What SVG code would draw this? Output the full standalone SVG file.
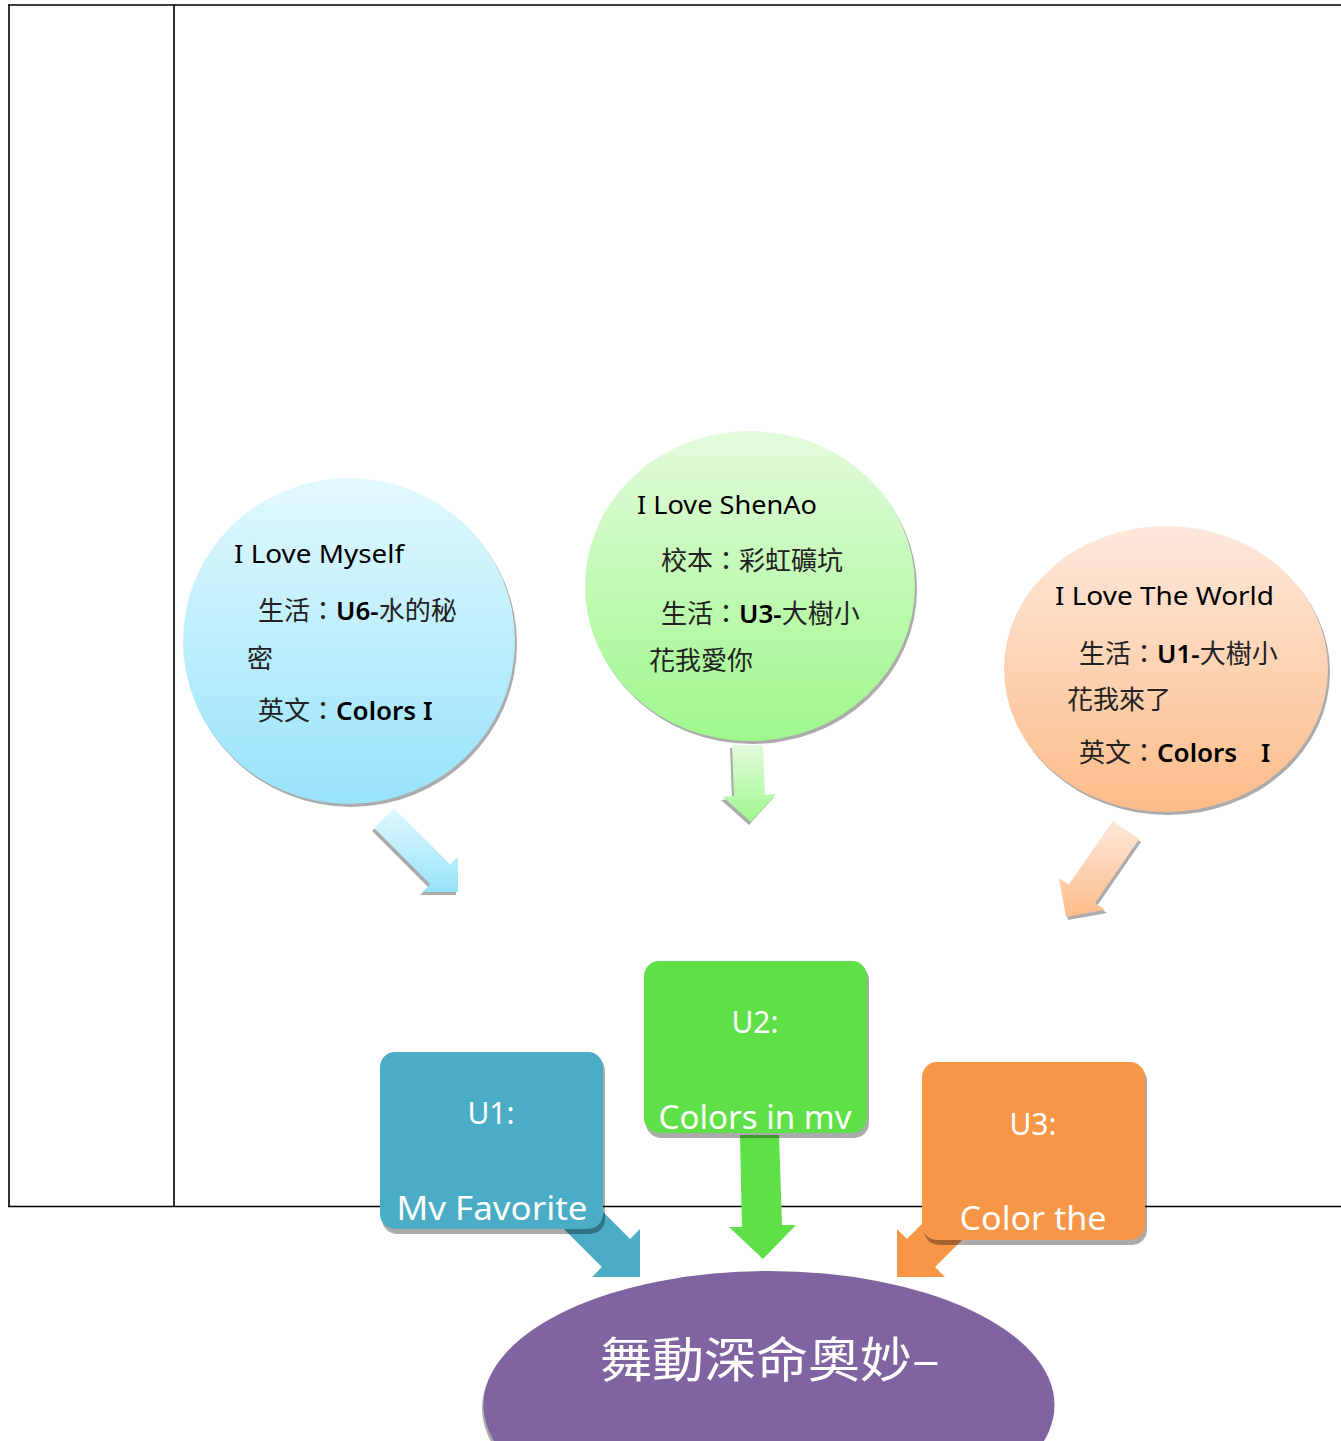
<svg xmlns="http://www.w3.org/2000/svg" width="1341" height="1441" viewBox="0 0 1341 1441">
<defs>
<linearGradient id="gBlue" x1="0" y1="0" x2="0" y2="1"><stop offset="0" stop-color="#e2f9fe"/><stop offset="1" stop-color="#98e3fb"/></linearGradient>
<linearGradient id="gGreen" x1="0" y1="0" x2="0" y2="1"><stop offset="0" stop-color="#e3fbdc"/><stop offset="1" stop-color="#9ff88c"/></linearGradient>
<linearGradient id="gOrange" x1="0" y1="0" x2="0" y2="1"><stop offset="0" stop-color="#fde9dc"/><stop offset="1" stop-color="#fdbc89"/></linearGradient>
<style>
.line{stroke:#000;stroke-width:1.6;fill:none}
.shadow{fill:#000;fill-opacity:0.33}
.en{font-family:"Noto Sans","Liberation Sans",sans-serif;fill:#000}
.cjk{font-family:"Noto Sans CJK TC","Noto Sans",sans-serif;fill:#222;font-size:26px}
.lat{font-family:"Noto Sans","Liberation Sans",sans-serif;font-weight:600;fill:#000}
.box{font-family:"Noto Sans","Liberation Sans",sans-serif;fill:#fff}
.title{font-family:"Noto Sans CJK TC",sans-serif;fill:#fff;font-size:48px}
</style>
</defs>
<rect width="1341" height="1441" fill="#fff"/>
<g id="table">
<line class="line" x1="8" y1="5" x2="1341" y2="5"/>
<line class="line" x1="9" y1="5" x2="9" y2="1207"/>
<line class="line" x1="174" y1="5" x2="174" y2="1207"/>
<line class="line" x1="8" y1="1206.5" x2="1341" y2="1206.5"/>
</g>
<g id="connectors">
<polygon class="shadow" points="392,811 448,867 456,859 456,895 420,895 428,887 372,831"/>
<polygon fill="url(#gBlue)" points="393.9,808.1 450.2,864.4 458,856.6 458,892 422.6,892 430.4,884.2 374.1,827.9"/>
<polygon class="shadow" points="730,748 761,748 763,798 774,797 749,825 721,800 732,799"/>
<polygon fill="url(#gGreen)" points="732,745 763,745 765,795 776,794 751,822 723,797 734,796"/>
<polygon class="shadow" points="1141,842 1097,906 1107,913 1068,920 1061,881 1071,888 1115,824"/>
<polygon fill="url(#gOrange)" points="1139.2,839.1 1095.1,903 1104.9,909.8 1066,917 1058.9,878 1068.7,884.8 1112.8,820.9"/>
<polygon fill="#4aacc5" points="573.5,1182.3 630.1,1238.9 640,1229 640,1277 592,1277 601.9,1267.1 545.3,1210.5"/>
<polygon fill="#5fdf48" points="740,1135 779,1135 782,1225 796,1225 763,1259 729,1227 742,1227"/>
<polygon fill="#f79646" points="963.5,1182.3 906.9,1238.9 897,1229 897,1277 945,1277 935.1,1267.1 991.7,1210.5"/>
</g>
<g id="node-myself">
<ellipse class="shadow" cx="351" cy="644" rx="166" ry="163"/>
<ellipse cx="349" cy="641" rx="166" ry="163" fill="url(#gBlue)"/>
<text class="en" x="234" y="563" font-size="25" textLength="170" lengthAdjust="spacingAndGlyphs">I Love Myself</text>
<text class="cjk" x="258" y="620">生活：<tspan class="lat">U6-</tspan>水的秘</text>
<text class="cjk" x="247" y="668">密</text>
<text class="cjk" x="258" y="720">英文：<tspan class="lat">Colors I</tspan></text>
</g>
<g id="node-shenao">
<ellipse class="shadow" cx="752" cy="589" rx="165" ry="155"/>
<ellipse cx="750" cy="586" rx="165" ry="155" fill="url(#gGreen)"/>
<text class="en" x="637" y="514" font-size="25" textLength="180" lengthAdjust="spacingAndGlyphs">I Love ShenAo</text>
<text class="cjk" x="661" y="570">校本：彩虹礦坑</text>
<text class="cjk" x="661" y="623">生活：<tspan class="lat">U3-</tspan>大樹小</text>
<text class="cjk" x="649" y="670">花我愛你</text>
</g>
<g id="node-world">
<ellipse class="shadow" cx="1168" cy="672" rx="162" ry="143"/>
<ellipse cx="1166" cy="669" rx="162" ry="143" fill="url(#gOrange)"/>
<text class="en" x="1055" y="605" font-size="25" textLength="219" lengthAdjust="spacingAndGlyphs">I Love The World</text>
<text class="cjk" x="1079" y="663">生活：<tspan class="lat">U1-</tspan>大樹小</text>
<text class="cjk" x="1067" y="709">花我來了</text>
<text class="cjk" x="1079" y="762">英文：<tspan class="lat">Colors</tspan></text>
<text class="lat" x="1261" y="762" font-size="25">I</text>
</g>
<g id="node-u1">
<rect class="shadow" x="382" y="1056" width="223" height="178" rx="15"/>
<rect x="380" y="1052" width="223" height="177" rx="15" fill="#4aacc5"/>
<text class="box" x="491" y="1124" font-size="30" text-anchor="middle">U1:</text>
<text class="box" x="492" y="1220" font-size="32" text-anchor="middle" textLength="191" lengthAdjust="spacingAndGlyphs">Mv Favorite</text>
</g>
<g id="node-u2">
<rect class="shadow" x="646" y="965" width="223" height="173" rx="15"/>
<rect x="644" y="961" width="223" height="172" rx="15" fill="#5fdf48"/>
<text class="box" x="755" y="1033" font-size="30" text-anchor="middle">U2:</text>
<text class="box" x="755" y="1129" font-size="32" text-anchor="middle" textLength="193" lengthAdjust="spacingAndGlyphs">Colors in mv</text>
</g>
<g id="node-u3">
<rect class="shadow" x="924" y="1066" width="223" height="179" rx="15"/>
<rect x="922" y="1062" width="223" height="178" rx="15" fill="#f79646"/>
<text class="box" x="1033" y="1135" font-size="30" text-anchor="middle">U3:</text>
<text class="box" x="1033" y="1230" font-size="32" text-anchor="middle" textLength="147" lengthAdjust="spacingAndGlyphs">Color the</text>
</g>
<g id="node-center">
<ellipse class="shadow" cx="767" cy="1408" rx="285" ry="135"/>
<ellipse cx="769" cy="1405" rx="285.5" ry="134" fill="#8064a2"/>
<text class="title" x="770" y="1377" text-anchor="middle" textLength="340" lengthAdjust="spacingAndGlyphs">舞動深命奧妙–</text>
</g>
</svg>
